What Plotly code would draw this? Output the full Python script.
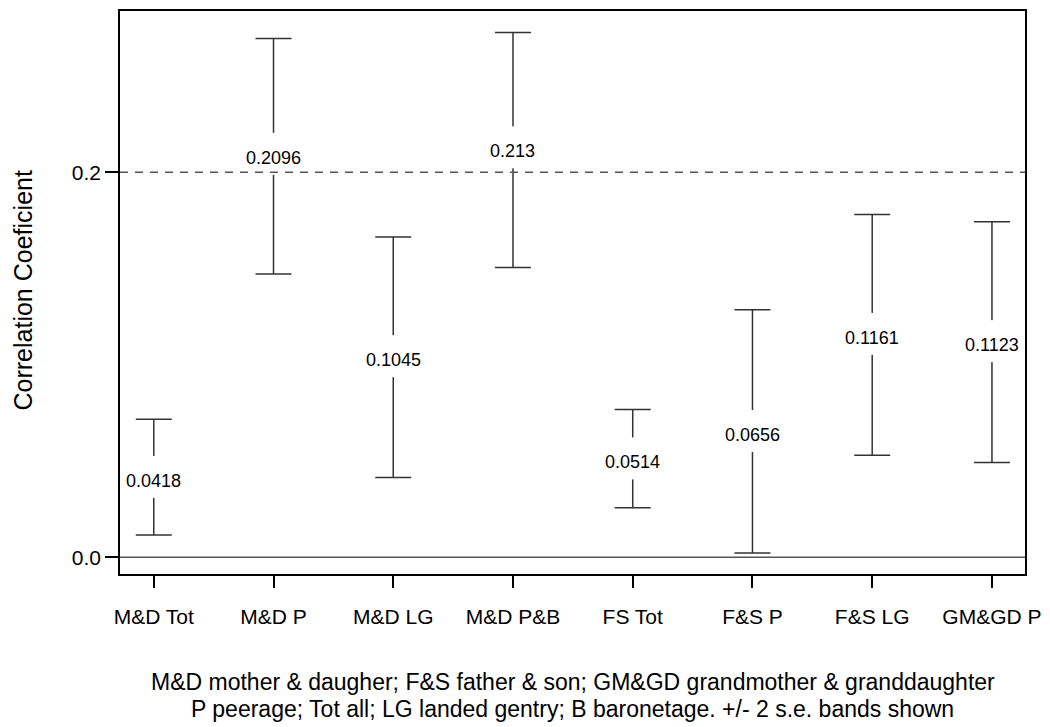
import plotly.graph_objects as go

# Correlation estimates with +/- 2 s.e. bands
groups = ["M&D Tot", "M&D P", "M&D LG", "M&D P&B", "FS Tot", "F&S P", "F&S LG", "GM&GD P"]
corr = [0.0418, 0.2096, 0.1045, 0.213, 0.0514, 0.0656, 0.1161, 0.1123]
band_low = [0.0116, 0.1472, 0.0415, 0.1505, 0.0258, 0.0023, 0.0530, 0.0493]
band_high = [0.0717, 0.2695, 0.1664, 0.2726, 0.0768, 0.1286, 0.1781, 0.1743]

y_ticks = [0.0, 0.2]
y_tick_text = ["0.0", "0.2"]
reference_level = 0.2

caption_lines = [
    "M&D mother & daugher; F&S father & son; GM&GD grandmother & granddaughter",
    "P peerage; Tot all; LG landed gentry; B baronetage. +/- 2 s.e. bands shown",
]

FONT = "Liberation Sans, Arial, sans-serif"
BAR_COLOR = "#333333"

x_idx = list(range(len(groups)))
err_plus = [h - c for h, c in zip(band_high, corr)]
err_minus = [c - l for c, l in zip(corr, band_low)]

fig = go.Figure()

# Error bands
fig.add_trace(go.Scatter(
    x=x_idx, y=corr, mode="markers",
    marker=dict(size=1, opacity=0),
    error_y=dict(type="data", symmetric=False, array=err_plus, arrayminus=err_minus,
                 color=BAR_COLOR, thickness=1.5, width=18),
    showlegend=False, hoverinfo="skip",
))

# White break in each band where its value label sits
fig.add_trace(go.Scatter(
    x=x_idx, y=corr, mode="markers",
    marker=dict(symbol="line-ns", size=30, color="white",
                line=dict(color="white", width=6)),
    showlegend=False, hoverinfo="skip",
))

# Value labels
for xi, v in zip(x_idx, corr):
    fig.add_annotation(x=xi, y=v, text=f"{v:g}", showarrow=False, yshift=-4,
                       xanchor="center", yanchor="middle",
                       font=dict(family=FONT, size=18, color="black"))

# Zero line and dashed reference line
fig.add_shape(type="line", xref="paper", x0=0, x1=1, yref="y", y0=0, y1=0,
              line=dict(color="#555555", width=1.5), layer="below")
fig.add_shape(type="line", xref="paper", x0=0, x1=1, yref="y",
              y0=reference_level, y1=reference_level,
              line=dict(color="#555555", width=1.5, dash="8px,7px"), layer="above")

# Y-axis title
fig.add_annotation(text="Correlation Coeficient", xref="paper", yref="paper",
                   x=-0.1077, y=0.5027, textangle=-90, showarrow=False,
                   xanchor="center", yanchor="middle",
                   font=dict(family=FONT, size=25, color="black"))

# Caption below the axis
for line, py in zip(caption_lines, [-0.1912, -0.2389]):
    fig.add_annotation(text=line, xref="paper", yref="paper", x=0.5, y=py,
                       showarrow=False, xanchor="center", yanchor="middle",
                       font=dict(family=FONT, size=23, color="black"))

fig.update_xaxes(
    range=[-0.282, 7.276], tickmode="array", tickvals=x_idx, ticktext=groups,
    ticks="outside", ticklen=12, tickwidth=1.5, tickcolor="black",
    showline=True, linecolor="black", linewidth=1.5, mirror=True,
    showgrid=False, zeroline=False,
    tickfont=dict(family=FONT, size=21, color="black"),
    ticklabelstandoff=11,
)
fig.update_yaxes(
    range=[-0.00865, 0.2838], tickmode="array", tickvals=y_ticks, ticktext=y_tick_text,
    ticks="outside", ticklen=13, tickwidth=1.5, tickcolor="black",
    showline=True, linecolor="black", linewidth=1.5, mirror=True,
    showgrid=False, zeroline=False,
    tickfont=dict(family=FONT, size=21, color="black"),
)

fig.update_layout(
    width=1050, height=727,
    margin=dict(l=120, r=20, t=9, b=153),
    plot_bgcolor="white", paper_bgcolor="white",
    font=dict(family=FONT, color="black"),
    showlegend=False,
)

fig.write_html("out.html")
